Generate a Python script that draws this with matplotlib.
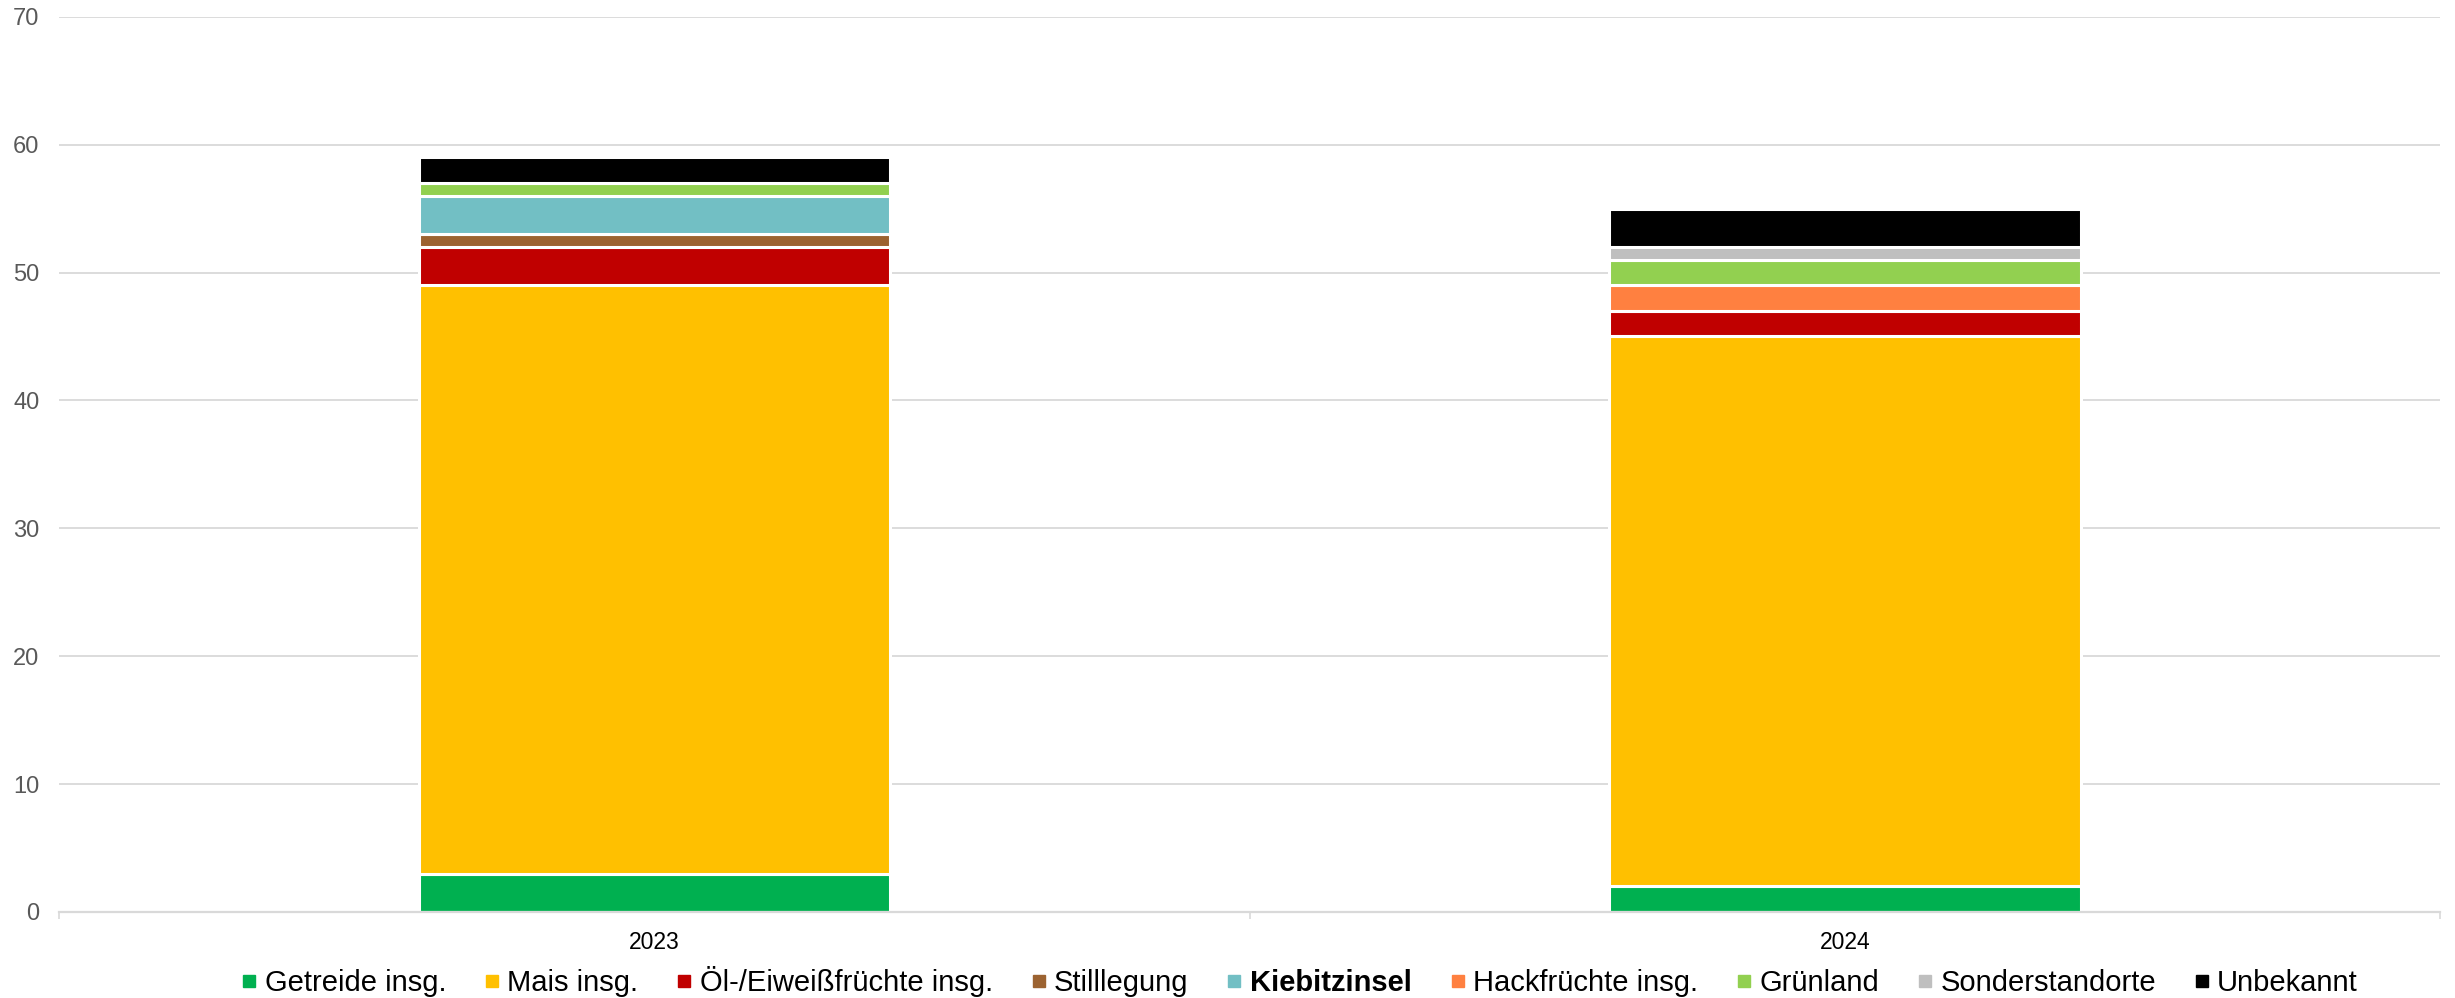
import matplotlib
matplotlib.use("Agg")
import matplotlib.pyplot as plt
from matplotlib.lines import Line2D
import numpy as np

plt.rcParams['font.family'] = ['Liberation Sans', 'DejaVu Sans']

years = ["2023", "2024"]
series_names = ["Getreide insg.", "Mais insg.", "Öl-/Eiweißfrüchte insg.", "Stilllegung",
                "Kiebitzinsel", "Hackfrüchte insg.", "Grünland", "Sonderstandorte", "Unbekannt"]
getreide = [3, 2]
mais = [46, 43]
oel = [3, 2]
stilllegung = [1, 0]
kiebitzinsel = [3, 0]
hackfruechte = [0, 2]
gruenland = [1, 2]
sonderstandorte = [0, 1]
unbekannt = [2, 3]
series_values = [getreide, mais, oel, stilllegung, kiebitzinsel, hackfruechte,
                 gruenland, sonderstandorte, unbekannt]
colors = ["#00b050", "#ffc000", "#c00000", "#9c6331", "#72bfc4", "#ff8040",
          "#92d050", "#bfbfbf", "#000000"]
yticks = [0, 10, 20, 30, 40, 50, 60, 70]

fig = plt.figure(figsize=(24.55, 9.98), dpi=100)
ax = fig.add_axes([0.024, 0.0862, 0.970, 0.897])

x = np.arange(len(years))
bottom = np.zeros(len(years))
for name, vals, col in zip(series_names, series_values, colors):
    v = np.array(vals, dtype=float)
    mask = v > 0
    ax.bar(x[mask], v[mask], width=0.396, bottom=bottom[mask], color=col,
           edgecolor="white", linewidth=2.2, zorder=3)
    bottom += v

ax.set_xlim(-0.5, len(years) - 0.5)
ax.set_ylim(0, 70)
ax.set_yticks(yticks)
ax.set_yticklabels([str(t) for t in yticks])
ax.set_xticks(x)
ax.set_xticklabels(years)
ax.set_xticks(np.arange(-0.5, len(years), 1.0), minor=True)

ax.grid(axis="y", color="#d9d9d9", linewidth=1.3, zorder=0)
for s in ["left", "right", "top"]:
    ax.spines[s].set_visible(False)
ax.spines["bottom"].set_color("#d9d9d9")
ax.spines["bottom"].set_linewidth(1.6)
ax.spines["bottom"].set_zorder(4)

ax.tick_params(axis="y", length=0, pad=14, labelsize=17, labelcolor="#595959")
ax.tick_params(axis="x", which="major", length=0, pad=14, labelsize=16.5, labelcolor="black")
ax.tick_params(axis="x", which="minor", length=5, width=1.2, color="#d9d9d9")

handles = [Line2D([0], [0], marker="s", linestyle="none", markersize=8,
                  markerfacecolor=c, markeredgecolor=c) for c in colors]
leg = fig.legend(handles, series_names, loc="center", bbox_to_anchor=(0.5295, 0.0165),
                 ncol=len(series_names), frameon=False, fontsize=21,
                 handlelength=0.5, handletextpad=0.28, columnspacing=1.32)
for t in leg.get_texts():
    if t.get_text() == "Kiebitzinsel":
        t.set_fontweight("bold")

fig.savefig("out.png", dpi=100)
